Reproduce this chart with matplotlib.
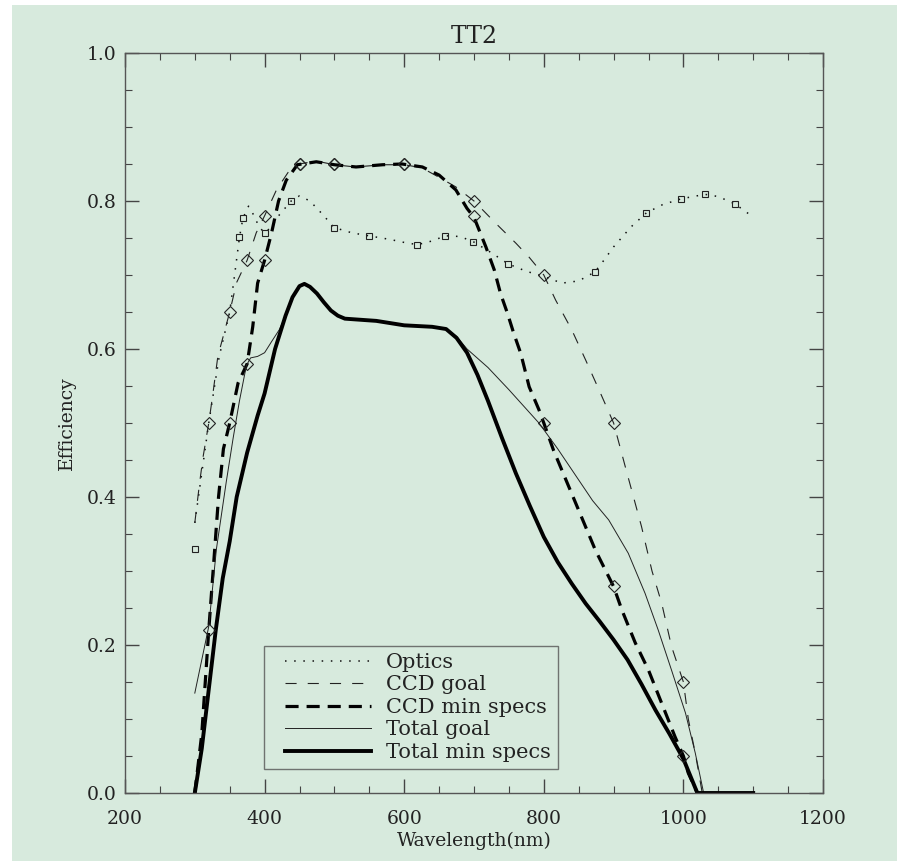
import numpy as np
import matplotlib
matplotlib.use('Agg')
import matplotlib.pyplot as plt
import matplotlib.ticker as ticker
from matplotlib.patches import Rectangle
from matplotlib.lines import Line2D
from matplotlib.legend_handler import HandlerLine2D

BG = '#d7eadd'

# efficiency curves (wavelength in nm)
optics_wl = [300, 320, 335, 350, 357, 364, 369, 377, 385, 392, 400, 410, 420, 438, 450,
             465, 480, 500, 525, 549, 580, 600, 619, 640, 659, 680, 699, 725, 749, 775,
             797, 826, 850, 873, 883, 900, 925, 947, 970, 997, 1031, 1050, 1074, 1096]
optics_eff = [0.365, 0.50, 0.59, 0.65, 0.70, 0.751, 0.777, 0.793, 0.78, 0.765, 0.757,
              0.765, 0.78, 0.80, 0.807, 0.80, 0.785, 0.764, 0.757, 0.753, 0.748, 0.744,
              0.741, 0.746, 0.753, 0.752, 0.745, 0.73, 0.715, 0.705, 0.699, 0.689, 0.692,
              0.704, 0.716, 0.738, 0.765, 0.784, 0.795, 0.803, 0.809, 0.806, 0.796, 0.781]

ccd_goal_wl = [300, 307, 312, 320, 326, 333, 350, 360, 375, 388, 400, 417, 436, 450, 474,
               500, 530, 570, 600, 625, 650, 674, 700, 731, 760, 779, 800, 817, 840, 860,
               879, 900, 917, 940, 955, 969, 983, 1000, 1007, 1017, 1027]
ccd_goal_eff = [0.365, 0.42, 0.455, 0.50, 0.54, 0.59, 0.65, 0.69, 0.72, 0.757, 0.78, 0.815,
                0.842, 0.85, 0.854, 0.849, 0.846, 0.849, 0.849, 0.845, 0.832, 0.819, 0.80,
                0.77, 0.743, 0.724, 0.70, 0.666, 0.626, 0.585, 0.545, 0.50, 0.44, 0.36,
                0.30, 0.256, 0.198, 0.15, 0.10, 0.054, 0.0]

ccd_min_wl = [300, 310, 315, 320, 327, 334, 341, 350, 362, 375, 383, 390, 400, 410, 420,
              431, 447, 474, 500, 531, 569, 597, 626, 650, 674, 690, 700, 717, 729, 738,
              748, 757, 767, 779, 793, 800, 814, 826, 850, 874, 900, 912, 931, 950, 969,
              988, 1000, 1007, 1020]
ccd_min_eff = [0.0, 0.08, 0.15, 0.22, 0.31, 0.40, 0.465, 0.50, 0.554, 0.58, 0.63, 0.689,
               0.72, 0.757, 0.80, 0.828, 0.849, 0.853, 0.849, 0.846, 0.849, 0.85, 0.846,
               0.835, 0.815, 0.79, 0.778, 0.738, 0.707, 0.675, 0.648, 0.621, 0.594, 0.549,
               0.518, 0.50, 0.463, 0.436, 0.382, 0.328, 0.279, 0.247, 0.203, 0.166, 0.121,
               0.076, 0.05, 0.027, 0.0]

total_goal_wl = [300, 310, 320, 331, 345, 355, 364, 374, 380, 390, 400, 410, 421, 430,
                 440, 450, 457, 465, 475, 485, 495, 505, 515, 530, 560, 600, 640, 660,
                 675, 690, 720, 750, 793, 820, 850, 870, 893, 921, 945, 964, 983, 1003,
                 1017, 1029]
total_goal_eff = [0.135, 0.18, 0.225, 0.33, 0.42, 0.48, 0.53, 0.578, 0.588, 0.59, 0.595,
                  0.61, 0.626, 0.645, 0.67, 0.685, 0.688, 0.684, 0.675, 0.663, 0.652,
                  0.645, 0.641, 0.640, 0.638, 0.632, 0.63, 0.627, 0.617, 0.60, 0.575,
                  0.545, 0.50, 0.465, 0.423, 0.395, 0.369, 0.324, 0.27, 0.22, 0.166,
                  0.108, 0.054, 0.0]

total_min_wl = [300, 310, 320, 330, 340, 350, 360, 375, 390, 400, 415, 430, 440, 450, 457,
                465, 475, 485, 495, 505, 515, 530, 560, 600, 640, 660, 675, 690, 705, 720,
                740, 760, 780, 800, 820, 840, 860, 880, 900, 920, 940, 960, 980, 1000,
                1020, 1100]
total_min_eff = [0.0, 0.06, 0.14, 0.22, 0.29, 0.34, 0.40, 0.46, 0.51, 0.54, 0.60, 0.645,
                 0.67, 0.685, 0.688, 0.684, 0.675, 0.663, 0.652, 0.645, 0.641, 0.640,
                 0.638, 0.632, 0.63, 0.627, 0.615, 0.595, 0.565, 0.53, 0.48, 0.432,
                 0.388, 0.346, 0.312, 0.283, 0.256, 0.232, 0.207, 0.18, 0.147, 0.112,
                 0.08, 0.046, 0.0, 0.0]

# measured points
optics_pt_wl = [300, 364, 369, 400, 438, 500, 549, 619, 659, 699, 749, 873, 947, 997, 1031, 1074]
optics_pt_eff = [0.33, 0.751, 0.777, 0.757, 0.80, 0.764, 0.753, 0.741, 0.753, 0.745,
                 0.715, 0.704, 0.784, 0.803, 0.809, 0.796]
ccd_goal_pt_wl = [320, 350, 375, 400, 450, 500, 600, 700, 800, 900, 1000]
ccd_goal_pt_eff = [0.50, 0.65, 0.72, 0.78, 0.85, 0.85, 0.85, 0.80, 0.70, 0.50, 0.15]
ccd_min_pt_wl = [320, 350, 375, 400, 450, 500, 600, 700, 800, 900, 1000]
ccd_min_pt_eff = [0.22, 0.50, 0.58, 0.72, 0.85, 0.85, 0.85, 0.78, 0.50, 0.28, 0.05]

labels = ['Optics', 'CCD goal', 'CCD min specs', 'Total goal', 'Total min specs']

plt.rcParams['font.family'] = ['DejaVu Serif']

fig = plt.figure(figsize=(9.04, 8.61), dpi=100, facecolor='white')
fig.patches.append(Rectangle((12/904, 0), 885/904, 1 - 5/861, transform=fig.transFigure,
                             facecolor=BG, edgecolor='none', zorder=-10))
ax = fig.add_axes([125/904, 1 - 793/861, 698/904, 740/861])
ax.set_facecolor(BG)

ax.plot(optics_wl, optics_eff, color='#111', lw=1.1, ls=(0, (1, 5)), label=labels[0])
ax.plot(ccd_goal_wl, ccd_goal_eff, color='#222', lw=0.8, ls=(0, (10, 10)), label=labels[1])
ax.plot(ccd_min_wl, ccd_min_eff, color='black', lw=2.3, ls=(0, (4.1, 2.5)), label=labels[2])
ax.plot(total_goal_wl, total_goal_eff, color='#222', lw=0.7, label=labels[3])
ax.plot(total_min_wl, total_min_eff, color='black', lw=2.8, label=labels[4])

ax.plot(optics_pt_wl, optics_pt_eff, ls='none', marker='s', ms=5, mfc='none',
        mec='#222', mew=0.8)
ax.plot(ccd_goal_pt_wl, ccd_goal_pt_eff, ls='none', marker='D', ms=6.5, mfc='none',
        mec='#222', mew=0.8)
ax.plot(ccd_min_pt_wl, ccd_min_pt_eff, ls='none', marker='D', ms=6.5, mfc='none',
        mec='#222', mew=0.8)

ax.set_xlim(200, 1200)
ax.set_ylim(0, 1.0)
ax.xaxis.set_major_locator(ticker.MultipleLocator(200))
ax.xaxis.set_minor_locator(ticker.MultipleLocator(50))
ax.yaxis.set_major_locator(ticker.MultipleLocator(0.2))
ax.yaxis.set_minor_locator(ticker.MultipleLocator(0.05))
ax.yaxis.set_major_formatter(ticker.FormatStrFormatter('%.1f'))
ax.tick_params(which='both', direction='in', top=True, right=True, colors='#444',
               labelcolor='#222', labelsize=13.5)
ax.tick_params(which='major', length=10, width=1)
ax.tick_params(which='minor', length=5, width=0.8)
ax.tick_params(axis='x', which='major', pad=12)
ax.tick_params(axis='y', which='major', pad=6)
for s in ax.spines.values():
    s.set_color('#555')
    s.set_linewidth(1)

ax.set_xlabel('Wavelength(nm)', fontsize=13.5, color='#222', labelpad=3)
ax.set_ylabel('Efficiency', fontsize=13.5, color='#222', labelpad=8)
ax.set_title('TT2', fontsize=17, color='#222', pad=7)

# handles start a bit inside the frame
fs = 15
leg = ax.legend(loc='lower left', bbox_to_anchor=(0.199, 0.032), fontsize=fs,
                handlelength=(86 + 14) / (fs * 100 / 72), handletextpad=0.7,
                labelspacing=0.17, borderpad=0.35, borderaxespad=0,
                frameon=True, fancybox=False,
                handler_map={Line2D: HandlerLine2D(xpad=14 / (fs * 100 / 72))})
leg.get_frame().set_facecolor(BG)
leg.get_frame().set_edgecolor('#555')
leg.get_frame().set_linewidth(1)
for t in leg.get_texts():
    t.set_color('#222')

plt.savefig('out.png', dpi=100, facecolor=fig.get_facecolor())
